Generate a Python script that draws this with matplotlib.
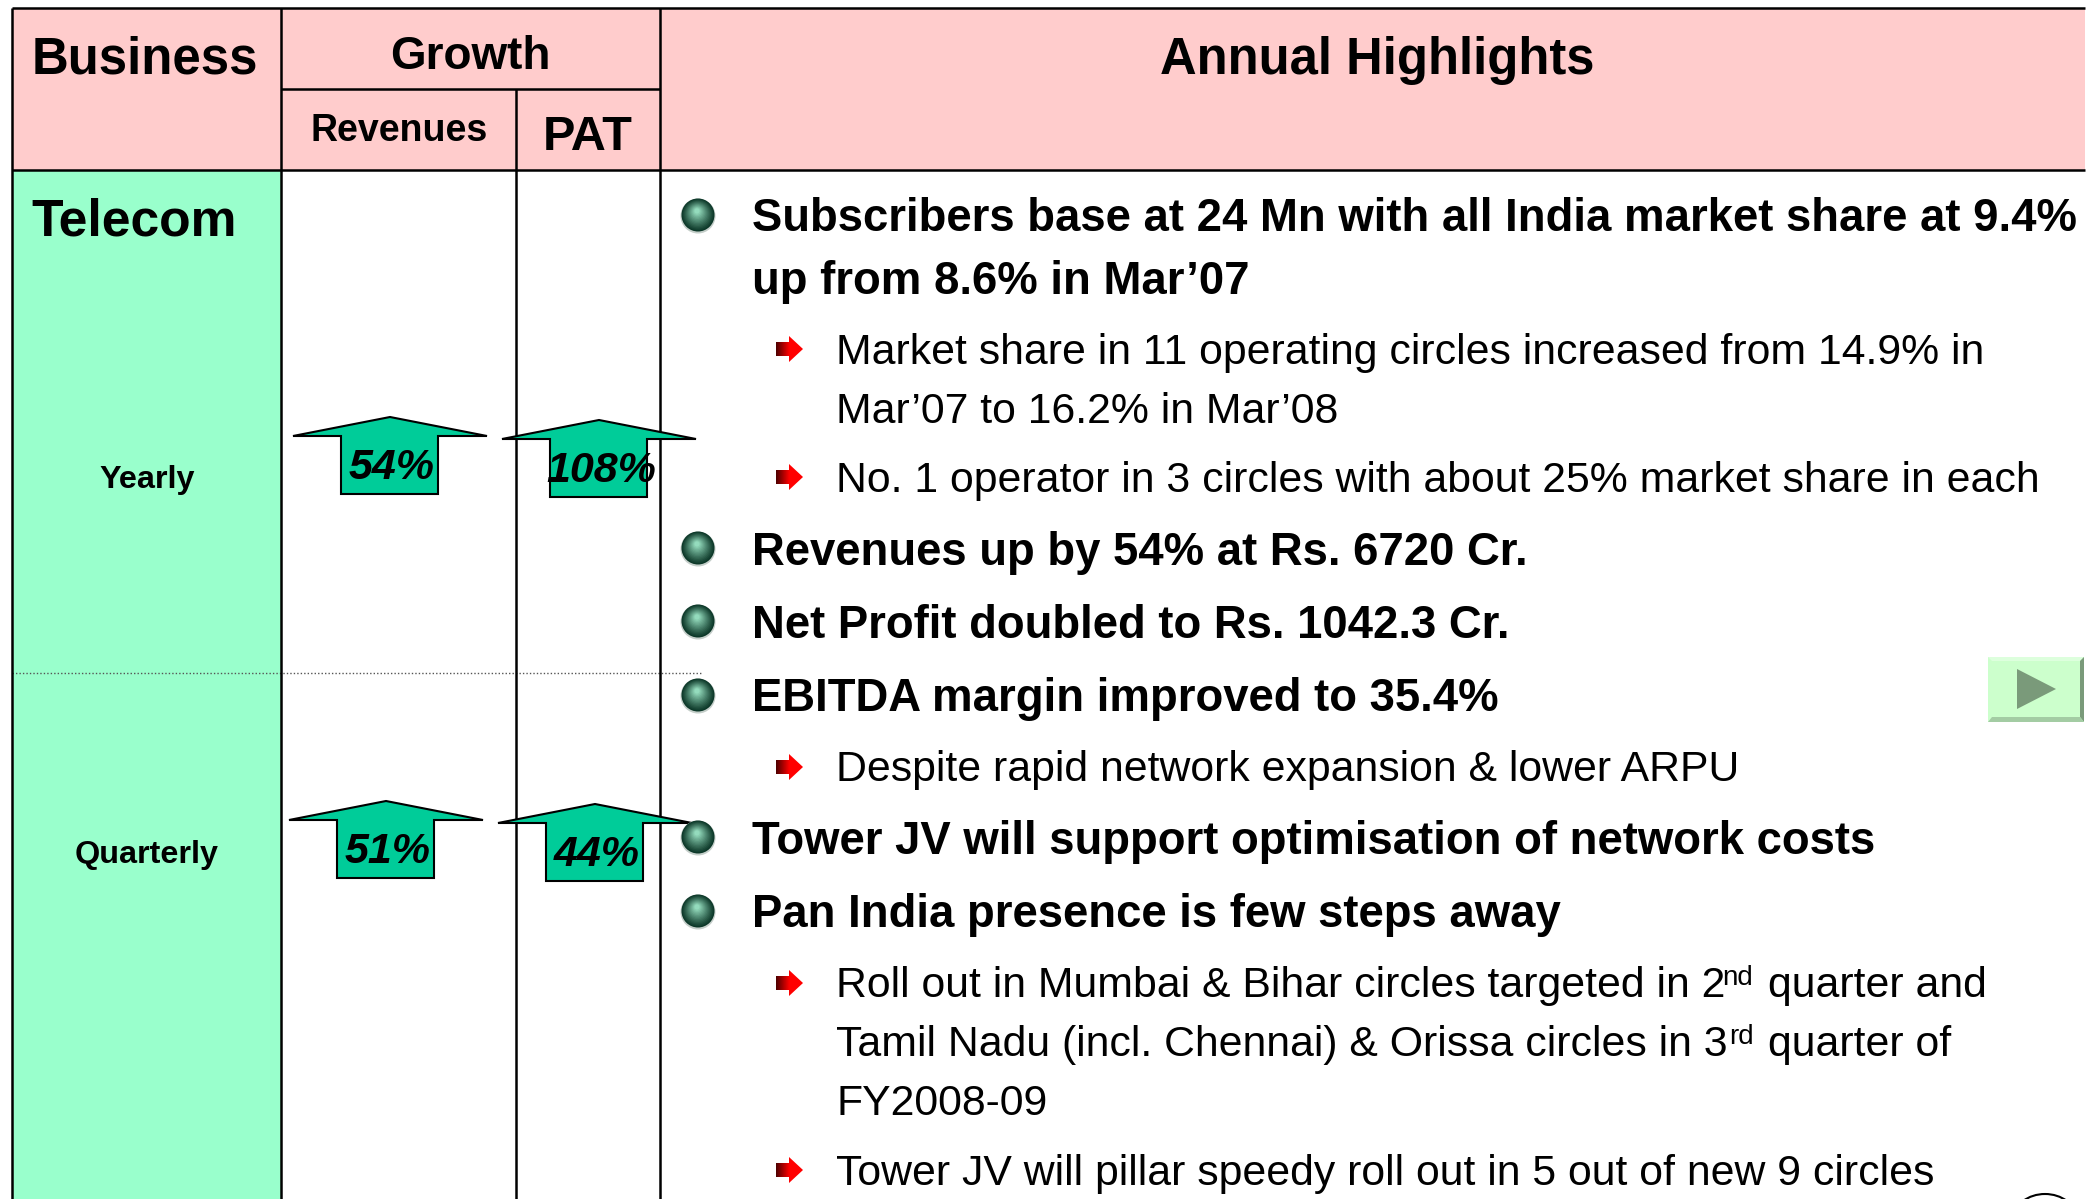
import numpy as np
import matplotlib
import matplotlib.pyplot as plt
from matplotlib.patches import Polygon, Rectangle, Circle, Ellipse

matplotlib.use("Agg")
plt.rcParams['font.family'] = ['Liberation Sans', 'DejaVu Sans']

W, H = 2091, 1199

# growth figures, percent
periods = ["Yearly", "Quarterly"]
revenue_growth = [54, 51]
pat_growth = [108, 44]

bullets = [
    "Subscribers base at 24 Mn with all India market share at 9.4%\nup from 8.6% in Mar’07",
    "Revenues up by 54% at Rs. 6720 Cr.",
    "Net Profit doubled to Rs. 1042.3 Cr.",
    "EBITDA margin improved to 35.4%",
    "Tower JV will support optimisation of network costs",
    "Pan India presence is few steps away",
]
bullet_y = [215, 548, 621, 695, 837, 911]
bullet_base = [[231, 294], [565], [638], [711], [854], [927]]

sub_lines = [
    "Market share in 11 operating circles increased from 14.9% in",
    "Mar’07 to 16.2% in Mar’08",
    "No. 1 operator in 3 circles with about 25% market share in each",
    "Despite rapid network expansion & lower ARPU",
    "FY2008-09",
    "Tower JV will pillar speedy roll out in 5 out of new 9 circles",
]
sub_base = [364, 423, 492, 781, 1115, 1185]
red_arrow_y = [349, 477, 767, 983, 1170]

fig = plt.figure(figsize=(W / 100, H / 100), dpi=100)
ax = fig.add_axes([0, 0, 1, 1])

PINK = "#FFCCCC"
GREEN = "#99FFCC"
ARROW = "#00CC99"


def vline(x, y0, y1, lw=1.8):
    ax.plot([x, x], [y0, y1], color="black", lw=lw, solid_capstyle="butt", zorder=3)


def hline(y, x0, x1, lw=1.8):
    ax.plot([x0, x1], [y, y], color="black", lw=lw, solid_capstyle="butt", zorder=3)


def up_arrow(cx, tip, pct):
    # wide flat head with a short stem
    pts = [(cx, tip), (cx + 97, tip + 19), (cx + 48, tip + 19), (cx + 48, tip + 77),
           (cx - 49, tip + 77), (cx - 49, tip + 19), (cx - 97, tip + 19)]
    ax.add_patch(Polygon(pts, closed=True, fc=ARROW, ec="black", lw=1.5, zorder=4))
    ax.text(cx + 2, tip + 62, f"{pct}%", fontsize=31, fontweight="bold", style="italic",
            ha="center", va="baseline", zorder=5)


def ball(cx, cy):
    # concentric discs give the shaded sphere
    dark = np.array([0.05, 0.22, 0.16])
    light = np.array([0.58, 0.86, 0.74])
    ax.add_patch(Circle((cx, cy + 1), 17.5, fc="#C4CEC9", ec="none", zorder=4))
    for t in np.linspace(0, 1, 14):
        r = 16.5 * (1 - t) + 2.5 * t
        ax.add_patch(Circle((cx - 1 * t, cy - 4 * t), r, fc=dark + (light - dark) * t ** 1.1,
                            ec="none", zorder=4))


def red_arrow(cy):
    x0 = 776
    pts = [(x0, cy - 7), (x0 + 13, cy - 7), (x0 + 13, cy - 13), (x0 + 27, cy),
           (x0 + 13, cy + 13), (x0 + 13, cy + 7), (x0, cy + 7)]
    poly = Polygon(pts, closed=True, fc="none", ec="none", zorder=4)
    ax.add_patch(poly)
    grad = np.linspace(0, 1, 32).reshape(1, -1)
    cmap = matplotlib.colors.LinearSegmentedColormap.from_list("r", ["#500000", "#FF0000", "#FF0000"])
    im = ax.imshow(grad, extent=(x0, x0 + 27, cy + 13, cy - 13), cmap=cmap, aspect="auto", zorder=4)
    im.set_clip_path(poly)


# header + first column fills
ax.add_patch(Rectangle((12, 8), 2073, 162, fc=PINK, ec="none", zorder=1))
ax.add_patch(Rectangle((12, 170), 269, H - 170, fc=GREEN, ec="none", zorder=1))

# dotted row separator
ax.plot([12, 702], [673, 673], color="#555555", lw=1, ls=(0, (1, 1.5)), zorder=2)

# grid
hline(8, 12, 2085)
hline(170, 12, 2085)
hline(89, 281, 660)
vline(12, 8, H)
vline(281, 8, H)
vline(516, 89, H)
vline(660, 8, H)

# header text
ax.text(32, 74, "Business", fontsize=36.7, fontweight="bold", ha="left", va="baseline", zorder=5)
ax.text(470, 69, "Growth", fontsize=33, fontweight="bold", ha="center", va="baseline", zorder=5)
ax.text(399, 141, "Revenues", fontsize=27, fontweight="bold", ha="center", va="baseline", zorder=5)
ax.text(588, 150, "PAT", fontsize=35, fontweight="bold", ha="center", va="baseline", zorder=5)
ax.text(1377, 74, "Annual Highlights", fontsize=36.5, fontweight="bold", ha="center", va="baseline", zorder=5)
ax.text(31, 236, "Telecom", fontsize=37.2, fontweight="bold", ha="left", va="baseline", zorder=5)

# row labels and growth arrows
for name, ly in zip(periods, [488, 863]):
    ax.text(147, ly, name, fontsize=23.3, fontweight="bold", ha="center", va="baseline", zorder=5)
for cx, tip, pct in zip([390, 386], [417, 801], revenue_growth):
    up_arrow(cx, tip, pct)
for cx, tip, pct in zip([599, 595], [420, 804], pat_growth):
    up_arrow(cx, tip, pct)

# highlights
for txt, by, bases in zip(bullets, bullet_y, bullet_base):
    ball(698, by)
    for part, b in zip(txt.split("\n"), bases):
        ax.text(752, b, part, fontsize=32.8, fontweight="bold", ha="left", va="baseline", zorder=5)

for line, b in zip(sub_lines, sub_base):
    ax.text(836, b, line, fontsize=30.75, ha="left", va="baseline", zorder=5)

# lines with ordinals
ax.text(836, 997, "Roll out in Mumbai & Bihar circles targeted in 2", fontsize=30.75, va="baseline", zorder=5)
ax.text(1722, 985, "nd", fontsize=20, va="baseline", zorder=5)
ax.text(1768, 997, "quarter and", fontsize=30.75, va="baseline", zorder=5)
ax.text(836, 1056, "Tamil Nadu (incl. Chennai) & Orissa circles in 3", fontsize=30.75, va="baseline", zorder=5)
ax.text(1729, 1044, "rd", fontsize=20, va="baseline", zorder=5)
ax.text(1768, 1056, "quarter of", fontsize=30.75, va="baseline", zorder=5)

for y in red_arrow_y:
    red_arrow(y)

# nav button
ax.add_patch(Rectangle((1988, 657), 96, 65, fc="#CCFFCC", ec="none", zorder=2))
ax.add_patch(Polygon([(1988, 657), (2084, 657), (2080, 661), (1992, 661)], fc="#DDFFDD", ec="none", zorder=3))
ax.add_patch(Polygon([(2084, 657), (2084, 722), (2080, 717), (2080, 661)], fc="#7A9A7A", ec="none", zorder=3))
ax.add_patch(Polygon([(1988, 722), (2084, 722), (2080, 717), (1992, 717)], fc="#A3CCA3", ec="none", zorder=3))
ax.add_patch(Polygon([(2017, 669), (2056, 689), (2017, 709)], fc="#7A9A7A", ec="none", zorder=4))

# logo clipped at the bottom edge
ax.add_patch(Ellipse((2045, 1218), 62, 48, fc="none", ec="black", lw=1.5, zorder=4))

ax.set_xlim(0, W)
ax.set_ylim(H, 0)
ax.axis("off")

fig.savefig("out.png", dpi=100, facecolor="white")
